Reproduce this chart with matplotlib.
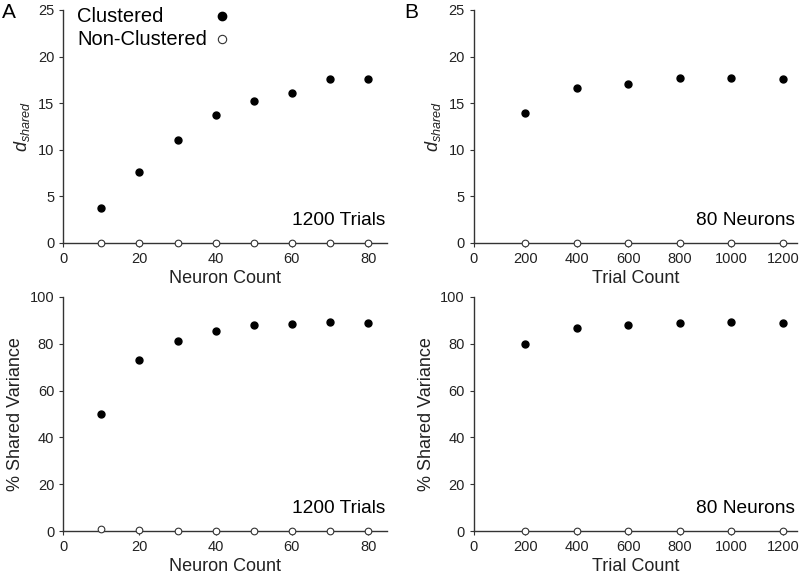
import matplotlib
matplotlib.use('Agg')
import matplotlib.pyplot as plt

plt.rcParams['font.family'] = ['Liberation Sans', 'DejaVu Sans']
plt.rcParams['mathtext.fontset'] = 'custom'
plt.rcParams['mathtext.it'] = 'Liberation Sans:italic'
plt.rcParams['mathtext.rm'] = 'Liberation Sans'

# data
neuron_counts = [10, 20, 30, 40, 50, 60, 70, 80]
trial_counts = [200, 400, 600, 800, 1000, 1200]

dshared_neurons_clu = [3.7, 7.6, 11.0, 13.75, 15.2, 16.1, 17.55, 17.55]
dshared_neurons_non = [0, 0, 0, 0, 0, 0, 0, 0]
dshared_trials_clu = [13.95, 16.65, 17.1, 17.75, 17.65, 17.55]
dshared_trials_non = [0, 0, 0, 0, 0, 0]

pct_neurons_clu = [50.2, 73.0, 81.3, 85.6, 88.2, 88.6, 89.2, 89.0]
pct_neurons_non = [0.7, 0.3, 0.2, 0.2, 0.0, 0.0, 0.0, 0.0]
pct_trials_clu = [80.1, 86.6, 88.2, 88.8, 89.2, 89.0]
pct_trials_non = [0, 0, 0, 0, 0, 0]

legend_labels = ['Clustered', 'Non-Clustered']

fig = plt.figure(figsize=(8, 5.74), dpi=100)

def make_ax(rect, x, clu, non, xlim, xticks, ylim, yticks, xlabel, ylabel, note):
    ax = fig.add_axes(rect)
    ax.plot(x, non, 'o', mfc='white', mec='#333333', mew=0.8, ms=4.8, clip_on=False, zorder=3)
    ax.plot(x, clu, 'o', color='black', ms=5, clip_on=False, zorder=4)
    ax.set_xlim(*xlim)
    ax.set_ylim(*ylim)
    ax.set_xticks(xticks)
    ax.set_yticks(yticks)
    for s in ['top', 'right']:
        ax.spines[s].set_visible(False)
    for s in ['left', 'bottom']:
        ax.spines[s].set_color('#333333')
        ax.spines[s].set_linewidth(1.0)
    ax.tick_params(labelsize=10.5, colors='#333333', length=3, labelcolor='#222222')
    ax.set_xlabel(xlabel, fontsize=13, color='#222222', labelpad=3)
    ax.set_ylabel(ylabel, fontsize=13, color='#222222', labelpad=4)
    ax.text(0.995, 0.097, note, transform=ax.transAxes, ha='right', va='center', fontsize=13.8)
    return ax

ax1 = make_ax([0.079, 0.5767, 0.405, 0.406], neuron_counts, dshared_neurons_clu, dshared_neurons_non,
              (0, 85), [0, 20, 40, 60, 80], (0, 25), [0, 5, 10, 15, 20, 25],
              'Neuron Count', '$d_{shared}$', '1200 Trials')
ax2 = make_ax([0.5925, 0.5767, 0.4035, 0.406], trial_counts, dshared_trials_clu, dshared_trials_non,
              (0, 1254), [0, 200, 400, 600, 800, 1000, 1200], (0, 25), [0, 5, 10, 15, 20, 25],
              'Trial Count', '$d_{shared}$', '80 Neurons')
ax3 = make_ax([0.079, 0.0749, 0.405, 0.4077], neuron_counts, pct_neurons_clu, pct_neurons_non,
              (0, 85), [0, 20, 40, 60, 80], (0, 100), [0, 20, 40, 60, 80, 100],
              'Neuron Count', '% Shared Variance', '1200 Trials')
ax4 = make_ax([0.5925, 0.0749, 0.4035, 0.4077], trial_counts, pct_trials_clu, pct_trials_non,
              (0, 1254), [0, 200, 400, 600, 800, 1000, 1200], (0, 100), [0, 20, 40, 60, 80, 100],
              'Trial Count', '% Shared Variance', '80 Neurons')

# legend in panel A: text left-aligned, markers to the right
ax1.text(0.043, 0.972, legend_labels[0], transform=ax1.transAxes, ha='left', va='center', fontsize=14.5)
ax1.text(0.043, 0.874, legend_labels[1], transform=ax1.transAxes, ha='left', va='center', fontsize=14.5)
ax1.plot([0.49], [0.972], 'o', color='black', ms=6, transform=ax1.transAxes, clip_on=False)
ax1.plot([0.49], [0.874], 'o', mfc='white', mec='#333333', mew=0.8, ms=6,
         transform=ax1.transAxes, clip_on=False)

fig.text(0.003, 0.978, 'A', fontsize=15, va='center', ha='left')
fig.text(0.505, 0.978, 'B', fontsize=15, va='center', ha='left')

fig.savefig('out.png', dpi=100)
